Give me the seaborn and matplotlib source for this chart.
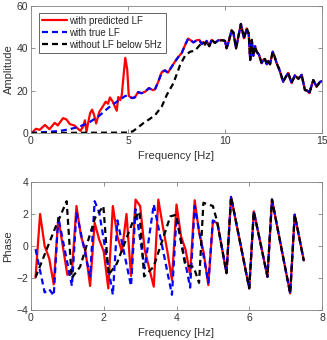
import numpy as np
import pandas as pd
import matplotlib
matplotlib.use("Agg")
import matplotlib.pyplot as plt
import seaborn as sns

# ---------------- Amplitude spectrum (top) ----------------
amp_freq = [0.0, 0.1, 0.25, 0.45, 0.72, 0.95, 1.22, 1.38, 1.65, 1.82, 2.0, 2.25, 2.42, 2.55,
            2.68, 2.78, 2.86, 2.95, 3.05, 3.15, 3.25, 3.36, 3.52, 3.7, 3.85, 3.97, 4.07, 4.2,
            4.3, 4.42, 4.5, 4.6, 4.68, 4.77, 4.86, 4.96, 5.04, 5.2, 5.35, 5.52, 5.7, 5.88,
            6.08, 6.3, 6.4, 6.56, 6.74, 6.9, 7.06, 7.25, 7.42, 7.6, 7.77, 7.94, 8.1, 8.23,
            8.37, 8.54, 8.68, 8.8, 8.88, 8.97, 9.05, 9.19, 9.31, 9.48, 9.66, 9.88, 10.0,
            10.08, 10.2, 10.34, 10.43, 10.57, 10.7, 10.82, 10.98, 11.12, 11.22, 11.3, 11.38,
            11.46, 11.55, 11.63, 11.75, 11.89, 11.97, 12.06, 12.15, 12.23, 12.32, 12.46,
            12.56, 12.66, 12.8, 13.0, 13.1, 13.26, 13.43, 13.6, 13.78, 13.95, 14.12, 14.25,
            14.35, 14.45, 14.55, 14.72, 14.9, 15.0]
amp_pred = [0.3, 0.5, 2.0, 1.5, 3.8, 1.8, 4.8, 3.6, 7.0, 6.5, 4.2, 3.5, 2.0, 1.0,
            3.0, 6.0, 0.5, 5.0, 9.5, 11.0, 8.5, 4.5, 10.0, 12.5, 14.8, 13.8, 16.8, 15.0,
            13.0, 10.5, 17.0, 15.5, 18.0, 27.0, 35.5, 30.0, 17.5, 16.5, 16.8, 19.3, 18.8, 19.5,
            21.2, 20.2, 20.8, 24.2, 28.8, 29.6, 28.5, 31.3, 33.7, 36.0, 37.8, 41.5, 44.6, 43.8,
            42.8, 43.8, 44.0, 42.0, 43.0, 41.8, 43.5, 41.0, 44.0, 42.6, 43.8, 43.8, 43.5,
            40.0, 43.5, 48.5, 47.5, 40.0, 46.0, 51.5, 44.7, 49.4, 47.0, 34.5, 44.0,
            36.5, 41.0, 38.4, 37.0, 33.0, 34.5, 35.0, 32.5, 34.0, 32.5, 38.4,
            36.0, 33.0, 30.0, 24.2, 26.0, 28.4, 23.6, 27.2, 25.6, 27.5, 20.3, 20.0,
            18.8, 22.0, 25.0, 21.9, 24.2, 24.5]

# true LF: own values below 5 Hz, identical to predicted above
true_low_freq = [0.0, 0.5, 1.0, 1.5, 2.0, 2.5, 3.0, 3.5, 4.0, 4.5, 4.86]
true_low_amp = [0.0, 0.3, 0.6, 1.0, 1.8, 3.0, 5.0, 8.0, 12.0, 15.3, 17.5]
true_join_freq = 5.0

# without LF below 5 Hz: own values below ~9 Hz, identical above
nolf_low_freq = [0.0, 5.0, 5.25, 5.5, 5.8, 6.1, 6.4, 6.74, 7.0, 7.34, 7.68, 7.94, 8.2, 8.45, 8.7, 8.88]
nolf_low_amp = [0.0, 0.2, 0.8, 2.5, 4.7, 6.5, 8.5, 12.5, 18.0, 23.5, 32.0, 36.5, 38.4, 38.9, 41.5, 43.0]
nolf_join_freq = 8.9

# ---------------- Phase spectrum (bottom) ----------------
ph_pred_freq = [0.125, 0.25, 0.375, 0.5, 0.625, 0.75, 1.0, 1.125, 1.25, 1.375, 1.5, 1.625,
                1.75, 1.875, 2.0, 2.125, 2.25, 2.375, 2.5, 2.625, 2.75, 2.875, 3.0, 3.125,
                3.375, 3.5, 3.625, 3.75, 3.875, 4.0, 4.125, 4.25, 4.375, 4.5, 4.625, 4.75,
                4.875, 5.0, 5.125]
ph_pred = [-1.96, 2.0, 0.0, -0.77, -2.4, 1.75, -1.8, -1.6, 2.5, 0.6, -0.35, -2.5,
           1.45, 0.4, -0.35, -2.65, 2.5, 0.6, -0.35, 2.0, -1.87, 2.9, 2.5, -0.24,
           -2.54, 2.9, 1.22, -0.35, -2.13, 2.59, 0.6, -0.24, -1.8, 2.86, 0.8, -0.45,
           -2.44, 1.54, 1.43]

ph_true_freq = [0.125, 0.375, 0.5, 0.625, 0.75, 1.125, 1.25, 1.625, 1.75, 1.875, 2.25,
                2.375, 2.75, 2.875, 3.125, 3.375, 3.875, 4.0, 4.375, 4.5, 4.875, 5.0, 5.125]
ph_true = [-0.2, -2.9, -2.7, -3.1, 1.8, -2.5, 2.1, -1.9, 2.8, 2.1, -3.05,
           1.6, -2.5, 2.3, -1.4, 2.6, -3.05, 1.8, -2.6, 2.5, -2.3, 1.6, 1.43]

ph_nolf_freq = [0.125, 0.66, 0.98, 1.12, 1.35, 1.76, 1.99, 2.13, 2.36, 2.82, 2.98, 3.11,
                3.37, 3.83, 3.99, 4.24, 4.47, 4.62, 4.74, 5.0, 5.11]
ph_nolf = [-1.96, 1.1, 2.8, -2.0, -1.3, 1.75, 2.5, -1.8, -1.1, 1.65, 2.15, -1.9,
           -1.3, 1.85, 1.95, -1.2, -1.3, -2.3, 2.7, 2.5, 1.6]

# common high-frequency part of all phase curves
ph_tail_freq = [5.375, 5.5, 6.0, 6.125, 6.5, 6.625, 7.125, 7.25, 7.5]
ph_tail = [-1.7, 3.07, -2.65, 2.17, -1.92, 2.9, -2.96, 1.96, -0.91]

labels = ["with predicted LF", "with true LF", "without LF below 5Hz"]
colors = ["#ff0000", "#0000ff", "#000000"]

# ---------- assemble series ----------
af = np.array(amp_freq)
ap = np.array(amp_pred)
amp_true_f = np.concatenate([true_low_freq, af[af > true_join_freq]])
amp_true_v = np.concatenate([true_low_amp, ap[af > true_join_freq]])
amp_nolf_f = np.concatenate([nolf_low_freq, af[af > nolf_join_freq]])
amp_nolf_v = np.concatenate([nolf_low_amp, ap[af > nolf_join_freq]])

ph_series = [
    (np.array(ph_pred_freq + ph_tail_freq), np.array(ph_pred + ph_tail)),
    (np.array(ph_true_freq + ph_tail_freq), np.array(ph_true + ph_tail)),
    (np.array(ph_nolf_freq + ph_tail_freq), np.array(ph_nolf + ph_tail)),
]
amp_series = [(af, ap), (amp_true_f, amp_true_v), (amp_nolf_f, amp_nolf_v)]

sns.set_style("white")
plt.rcParams['font.family'] = ['Liberation Sans', 'DejaVu Sans']

fig = plt.figure(figsize=(3.27, 3.40), dpi=100)
ax1 = fig.add_axes([31/327, 1 - 133/340, 291/327, 127/340])
ax2 = fig.add_axes([31/327, 1 - 310/340, 291/327, 128/340])

dash = (0, (2.7, 1.8))
styles = ["-", dash, dash]

for (x, y), c, ls, lab in zip(amp_series, colors, styles, labels):
    sns.lineplot(x=x, y=y, ax=ax1, color=c, linestyle=ls, linewidth=1.6,
                 label=lab, sort=False, estimator=None)
for (x, y), c, ls in zip(ph_series, colors, styles):
    sns.lineplot(x=x, y=y, ax=ax2, color=c, linestyle=ls, linewidth=1.6,
                 sort=False, estimator=None)

ax1.set_xlim(0, 15)
ax1.set_ylim(0, 60)
ax1.set_xticks([0, 5, 10, 15])
ax1.set_yticks([0, 20, 40, 60])
ax1.set_xlabel("Frequency [Hz]", fontsize=8, color="0.2", labelpad=4)
ax1.set_ylabel("Amplitude", fontsize=8, color="0.2", labelpad=2)

ax2.set_xlim(0, 8)
ax2.set_ylim(-4, 4)
ax2.set_xticks([0, 2, 4, 6, 8])
ax2.set_yticks([-4, -2, 0, 2, 4])
ax2.set_xlabel("Frequency [Hz]", fontsize=8, color="0.2", labelpad=4)
ax2.set_ylabel("Phase", fontsize=8, color="0.2", labelpad=2)

for ax in (ax1, ax2):
    for s in ax.spines.values():
        s.set_visible(True)
        s.set_color("0.5")
        s.set_linewidth(0.6)
    ax.tick_params(direction="in", length=3, width=0.5, color="0.4",
                   labelsize=7.5, labelcolor="0.2", pad=2,
                   top=True, right=True, bottom=True, left=True)

leg = ax1.legend(loc="upper left", bbox_to_anchor=(0.0275, 0.654, 0.436, 0.291),
                 mode="expand", fontsize=7,
                 frameon=True, fancybox=False, framealpha=1, edgecolor="0.3",
                 handlelength=2.6, handletextpad=0.15, labelspacing=0.2,
                 borderpad=0.3, borderaxespad=0.0)
leg.get_frame().set_linewidth(0.6)

fig.savefig("out.png", dpi=100)
